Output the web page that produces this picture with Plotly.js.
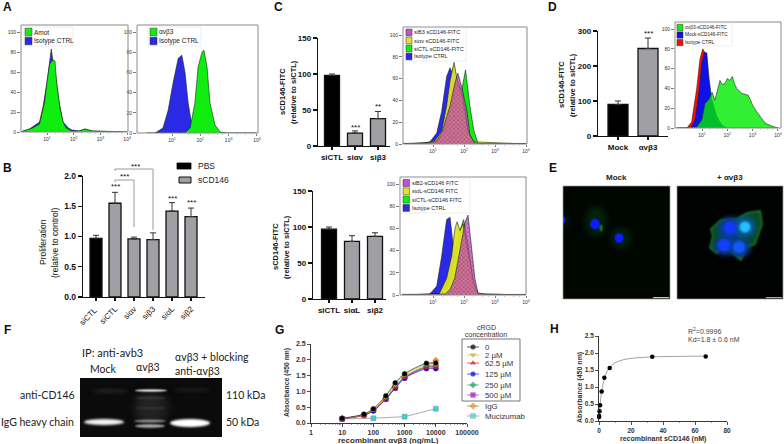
<!DOCTYPE html>
<html><head><meta charset="utf-8">
<script src="https://cdn.plot.ly/plotly-3.0.1.min.js"></script>
<style>html,body{margin:0;padding:0;background:#fff}#c{width:784px;height:444px}</style></head>
<body><div id="c"></div>
<script>
// ---------- data ----------
const profCats = ['siCTL ','siCTL','siαv','siβ3','siαL','siβ2'];
const profVals = [0.97,1.55,0.96,0.95,1.42,1.33];
const profErr  = [0.05,0.18,0.03,0.11,0.14,0.14];
const c1Cats = ['siCTL','siαv','siβ3'];
const c1Vals = [98,18,38];
const c1Err  = [2,3,10];
const c2Cats = ['siCTL','siαL','siβ2'];
const c2Vals = [97,80,87];
const c2Err  = [3,8,5];
const dCats = ['Mock','αvβ3'];
const dVals = [90,250];
const dErr  = [10,30];

const a1BlueX=[0,.34,.72,.85,1,1.08,1.16,1.22,1.29,1.45,1.6,1.8,1.93,2.2,2.42,2.7,4];
const a1BlueY=[0,3,10,25,50,70,83,72,62,30,10,4,2,1,3,1,0];
const a1GreenX=[0,.46,.72,.91,1.0,1.1,1.22,1.3,1.36,1.48,1.6,1.72,1.93,2.23,2.42,2.69,4];
const a1GreenY=[0,4,8,30,50,68,72,71,50,25,10,4,1,1,3,1,0];
const a2BlueX=[.1,.4,.68,.86,1.04,1.22,1.35,1.46,1.57,1.7,1.88,4];
const a2BlueY=[0,0,5,22,50,74,77,60,30,8,0,0];
const a2GreenX=[.1,1.46,1.64,1.81,1.92,2.06,2.13,2.24,2.34,2.52,2.7,2.95,4];
const a2GreenY=[0,0,5,30,65,80,82,65,30,8,1,0,0];

const c1BlueX=[0,.7,.9,1.12,1.28,1.44,1.55,1.6,1.68,1.8,1.97,2.2,4];
const c1BlueY=[0,1,2,10,30,62,70,66,72,45,10,0,0];
const c1YellowX=[0,.8,1.06,1.28,1.44,1.55,1.68,1.77,1.94,2.13,2.3,4];
const c1YellowY=[0,1,3,12,35,58,75,60,45,12,2,0];
const c1GreenX=[0,1.0,1.23,1.44,1.65,1.8,1.93,2.05,2.19,2.32,2.45,2.6,4];
const c1GreenY=[0,1,5,15,38,55,50,68,35,12,1,0,0];
const c1PurpleX=[0,.9,1.12,1.3,1.55,1.7,1.8,1.93,2.1,2.19,2.35,2.5,4];
const c1PurpleY=[.5,1,3,12,35,55,65,52,30,8,1,.5,.5];

const c2BlueX=[0,.8,.9,1.12,1.28,1.44,1.55,1.65,1.75,1.9,2.2,4];
const c2BlueY=[0,0,1,8,35,68,70,45,20,5,0,0];
const c2YellowX=[0,1.2,1.44,1.6,1.71,1.78,1.87,1.97,2.13,2.3,2.45,4];
const c2YellowY=[0,1,15,35,60,66,58,64,40,12,1,0];
const c2GreenX=[0,1.25,1.5,1.65,1.75,1.87,1.99,2.13,2.3,2.45,4];
const c2GreenY=[0,1,10,25,45,58,68,45,12,1,0];
const c2PurpleX=[0,1.4,1.55,1.7,1.8,1.93,2.03,2.13,2.23,2.35,2.45,2.7,4];
const c2PurpleY=[.5,1,5,15,30,50,65,72,45,15,2,.5,.5];

const dRedX=[0,.4,.59,.79,.92,1.03,1.12,1.24,1.38,1.6,4];
const dRedY=[0,0,6,40,70,80,76,30,15,0,0];
const dBlueX=[0,.55,.72,.85,.99,1.08,1.19,1.28,1.38,1.58,1.78,2,4];
const dBlueY=[0,0,8,30,65,76,76,50,30,12,3,0,0];
const dGreenX=[0,.79,.99,1.12,1.25,1.33,1.4,1.51,1.6,1.71,1.8,1.91,2.0,2.1,2.2,2.28,2.37,2.47,2.57,2.7,2.83,2.92,3.02,3.15,3.29,3.4,3.49,3.75,4];
const dGreenY=[0,1,8,25,28,32,36,28,38,48,44,45,50,48,52,45,40,37,35,34,33,28,22,17,12,9,5,2,0];

const gX=[10,50,100,250,500,1000,5000,10000];
const g0=[.15,.28,.45,.86,1.27,1.56,1.89,1.90];
const g2=[.14,.27,.43,.82,1.2,1.52,1.85,1.85];
const g62=[.13,.24,.39,.76,1.12,1.44,1.76,1.76];
const g125=[.13,.25,.38,.75,1.1,1.42,1.72,1.72];
const g250=[.14,.26,.41,.78,1.15,1.47,1.8,1.8];
const g500=[.13,.25,.4,.76,1.11,1.43,1.78,1.77];
const gIgG=[.14,.26,.4,.76,1.12,1.43,1.78,1.98];
const gMuciX=[10,100,1000,10000];
const gMuci=[.13,.15,.2,.45];

const hX=[0.05,0.1,0.33,0.67,1.67,3.33,6.67,33.3,66.7];
const hY=[.12,.15,.29,.46,.87,1.27,1.56,1.89,1.9];
const hFitX=[0,.33,.67,1.67,3.33,5,6.67,10,13,17,22,33,50,66.7];
const hFitY=[.08,.25,.46,.87,1.24,1.45,1.57,1.71,1.77,1.82,1.85,1.885,1.9,1.91];

// ---------- page helpers ----------
const W=784,H=444;
const px=x=>x/W, py=y=>1-y/H;
const traces=[],shapes=[],annotations=[],images=[];
const layout={width:W,height:H,margin:{l:0,r:0,t:0,b:0},paper_bgcolor:'#fff',plot_bgcolor:'rgba(0,0,0,0)',showlegend:false,
  shapes,annotations,images};
let axN=0;
const ARIAL='Liberation Sans, Arial, sans-serif', LATO='Lato, sans-serif';
function text(x,y,t,o={}){annotations.push(Object.assign({xref:'paper',yref:'paper',x:px(x),y:py(y),text:t,showarrow:false,
  xanchor:'left',yanchor:'middle',font:{family:ARIAL,size:7,color:'#222'},borderpad:0},o));}
function panel(x,y,t){text(x,y,'<b>'+t+'</b>',{font:{family:ARIAL,size:12,color:'#111'},xanchor:'center'});}
function rect(x0,y0,x1,y1,fill,line,w,layer){shapes.push({type:'rect',xref:'paper',yref:'paper',x0:px(x0),x1:px(x1),y0:py(y0),y1:py(y1),
  fillcolor:fill,line:{color:line||'rgba(0,0,0,0)',width:w==null?1:w},layer:layer||'above'});}
function addAxes(xo,yo){axN++;const s=axN===1?'':axN;
  layout['xaxis'+s]=Object.assign({anchor:'y'+s,fixedrange:true,showgrid:false,zeroline:false},xo);
  layout['yaxis'+s]=Object.assign({anchor:'x'+s,fixedrange:true,showgrid:false,zeroline:false},yo);
  return {x:'x'+s,y:'y'+s};}

function hist(L,T,R,B,y100,y0,xAt1,dec,series,legend,legBox,fs){
  const yMin=(y0-B)/((y0-y100)/100), yMax=(y0-T)/((y0-y100)/100);
  const ax=addAxes({domain:[px(L),px(R)],range:[1+(L-xAt1)/dec,1+(R-xAt1)/dec],tickmode:'array',tickvals:[1,2,3,4],
      ticktext:['10<sup>1</sup>','10<sup>2</sup>','10<sup>3</sup>','10<sup>4</sup>'],ticks:'outside',ticklen:2,tickwidth:.7,tickcolor:'#444',
      tickfont:{family:ARIAL,size:5,color:'#333'},showline:false,
      minor:{ticks:'outside',ticklen:1,tickwidth:.4,tickcolor:'#777',tickvals:[1.3,1.6,1.8,2.3,2.6,2.8,3.3,3.6,3.8]}},
    {domain:[py(B),py(T)],range:[yMin,yMax],tickmode:'array',tickvals:[0,20,40,60,80,100],ticks:'outside',ticklen:3,tickwidth:.7,tickcolor:'#444',
      tickfont:{family:ARIAL,size:5,color:'#333'},showline:false});
  series.forEach(s=>traces.push({type:'scatter',mode:'lines',x:s.x,y:s.y,xaxis:ax.x,yaxis:ax.y,fill:'tozeroy',
     fillcolor:s.fill,fillpattern:s.pattern,line:{color:s.line||'rgba(20,40,20,.85)',width:.7},hoverinfo:'skip'}));
  rect(L,T,R,B,'rgba(0,0,0,0)','#8a8a8a',1);
  rect(legBox[0],legBox[1],legBox[2],legBox[3],'rgba(255,255,255,.85)','#ddd',.5);
  const h=legend.step;
  legend.items.forEach((it,i)=>{const yc=legBox[1]+legend.first+i*h;
    rect(legBox[0]+legend.pad,yc-h*.42,legBox[0]+legend.pad+legend.sw,yc+h*.42,it.color,'#333',.5);
    text(legBox[0]+legend.pad+legend.sw+1,yc,it.t,{font:{family:ARIAL,size:fs,color:'#222'}});});
}
const cBlue='#2a2ae6',cGreen='#10ee10',cYellow='rgba(225,225,40,.95)',cPurple='rgba(190,60,190,.78)',cRed='#f01010';
const hatch={shape:'x',fgcolor:'rgba(110,10,100,.55)',bgcolor:'rgba(200,70,190,.7)',size:3,solidity:.3,fillmode:'replace'};

function bars(yAxisX,xEnd,firstC,stepC,barW,y0,yTop,yMaxV,yTicks,cats,vals,errs,colors,fsTick,fsCat,angle,lw){
  const ax=addAxes({domain:[px(yAxisX),px(xEnd)],range:[(yAxisX-firstC)/stepC,(xEnd-firstC)/stepC],
     tickmode:'array',tickvals:cats.map((_,i)=>i),ticktext:cats.map(c=>angle?c:'<b>'+c.trim()+'</b>'),tickangle:angle||0,
     tickfont:{family:ARIAL,size:fsCat,color:'#111'},ticks:'outside',ticklen:3,tickwidth:lw,tickcolor:'#111',showline:true,linecolor:'#111',linewidth:lw},
    {domain:[py(y0),py(yTop)],range:[0,yMaxV],tickmode:'array',tickvals:yTicks,ticks:'outside',ticklen:4,tickwidth:lw,tickcolor:'#111',
     tickfont:{family:ARIAL,size:fsTick,color:'#111'},showline:true,linecolor:'#111',linewidth:lw,
     ticktext:yTicks.map(v=>'<b>'+(yMaxV===2?v.toFixed(1):v)+'</b>')});
  traces.push({type:'bar',x:cats.map((_,i)=>i),y:vals,width:barW/stepC,xaxis:ax.x,yaxis:ax.y,
     marker:{color:colors,line:{color:'#111',width:1.3}},
     error_y:{type:'data',symmetric:false,array:errs,arrayminus:errs.map(()=>0),color:'#333',thickness:1,width:3},hoverinfo:'skip'});
  return ax;
}
const GR='#a0a0a4',BK='#000';

panel(8,7,'A');
hist(21,25,128,132,32,132,47,26.7,
  [{x:a1BlueX,y:a1BlueY,fill:cBlue},{x:a1GreenX,y:a1GreenY,fill:cGreen}],
  {items:[{t:'Amot',color:cGreen},{t:'Isotype CTRL',color:cBlue}],step:9,first:5,pad:2,sw:7},[23,27,73,46],6.5);
hist(137,25,258,133,32,133,172,28.3,
  [{x:a2BlueX,y:a2BlueY,fill:cBlue},{x:a2GreenX,y:a2GreenY,fill:cGreen}],
  {items:[{t:'αvβ3',color:cGreen},{t:'Isotype CTRL',color:cBlue}],step:9,first:5,pad:2,sw:7},[148,27,201,46],6.5);

panel(8,168,'B');
const bB=bars(83,205,96,19,12,297,176,2,[0,.5,1,1.5,2],profCats,profVals,profErr,[BK,GR,GR,GR,GR,GR],8.5,8,-45,1.2);
text(43,242,'Proliferation',{font:{family:ARIAL,size:8.5,color:'#111'},textangle:-90,xanchor:'center'});
text(55,242,'(relative to control)',{font:{family:ARIAL,size:8.5,color:'#111'},textangle:-90,xanchor:'center'});
rect(177,163,191,169,BK,'#000',.8);
rect(179,177,191,183,GR,'#111',1);
text(197,166,'PBS',{font:{family:ARIAL,size:8.5,color:'#222'}});
text(197,180,'sCD146',{font:{family:ARIAL,size:8.5,color:'#222'}});
function bracket(ax,i0,i1,yTop,yEnd){
  const base={xref:ax.x,yref:'paper',type:'line',line:{color:'#9a9a9a',width:1},layer:'above'};
  shapes.push(Object.assign({},base,{x0:i0,x1:i1,y0:py(yTop),y1:py(yTop)}));
  shapes.push(Object.assign({},base,{x0:i1,x1:i1,y0:py(yTop),y1:py(yEnd)}));
  shapes.push(Object.assign({},base,{x0:i0,x1:i0,y0:py(yTop),y1:py(yTop+2)}));
}
bracket(bB,1,2,180,227);
bracket(bB,1,3,169,230);
function stars(ax,x,y,t,size){annotations.push({xref:ax.x,yref:ax.y,x,y,text:t,showarrow:false,xanchor:'center',yanchor:'middle',font:{family:ARIAL,size:size||8,color:'#111'}});}
stars(bB,1,1.82,'***');stars(bB,4,1.63,'***');stars(bB,5,1.56,'***');
text(124.5,176.5,'***',{font:{family:ARIAL,size:8,color:'#111'},xanchor:'center'});
text(135,166.5,'***',{font:{family:ARIAL,size:8,color:'#111'},xanchor:'center'});

panel(278,7,'C');
const bC=bars(318,390,332,23,15,146,38,150,[0,50,100,150],c1Cats,c1Vals,c1Err,[BK,GR,GR],8,8,0,1.2);
text(282,92,'<b>sCD146-FITC</b>',{font:{family:ARIAL,size:7.5,color:'#111'},textangle:-90,xanchor:'center'});
text(293,92,'<b>(relative to siCTL)</b>',{font:{family:ARIAL,size:7.5,color:'#111'},textangle:-90,xanchor:'center'});
stars(bC,1,26,'***');stars(bC,2,55,'**');
hist(403,27,527,144,35,144,433,31,
  [{x:c1BlueX,y:c1BlueY,fill:cBlue},{x:c1GreenX,y:c1GreenY,fill:cGreen},{x:c1YellowX,y:c1YellowY,fill:cYellow},{x:c1PurpleX,y:c1PurpleY,fill:cPurple,pattern:hatch}],
  {items:[{t:'siB3 sCD146-FITC',color:'#c050c8'},{t:'siαv sCD146-FITC',color:'#e0e030'},{t:'siCTL sCD146-FITC',color:cGreen},{t:'Isotype CTRL',color:cBlue}],step:8,first:4.5,pad:2,sw:6},[404,28,466,61],5.5);
const bC2=bars(313,386,329,23,15,299,191,150,[0,50,100,150],c2Cats,c2Vals,c2Err,[BK,GR,GR],8,8,0,1.2);
text(275,247,'<b>sCD146-FITC</b>',{font:{family:ARIAL,size:7.5,color:'#111'},textangle:-90,xanchor:'center'});
text(286,247,'<b>(relative to siCTL)</b>',{font:{family:ARIAL,size:7.5,color:'#111'},textangle:-90,xanchor:'center'});
hist(400,177,526,295,184,295,433,31,
  [{x:c2BlueX,y:c2BlueY,fill:cBlue},{x:c2GreenX,y:c2GreenY,fill:cGreen},{x:c2YellowX,y:c2YellowY,fill:cYellow},{x:c2PurpleX,y:c2PurpleY,fill:cPurple,pattern:hatch}],
  {items:[{t:'siB2-sCD146 FITC',color:'#c050c8'},{t:'siαL-sCD146 FITC',color:'#e0e030'},{t:'siCTL-sCD146 FITC',color:cGreen},{t:'Isotype CTRL',color:cBlue}],step:8.3,first:5,pad:2,sw:6.5},[401,178,470,213],5.5);

panel(552,7,'D');
const bD=bars(598,668,618,30,20,136,31,300,[0,100,200,300],dCats,dVals,dErr,[BK,GR],8,8,0,1.2);
text(562,85,'<b>sCD146-FITC</b>',{font:{family:ARIAL,size:7.5,color:'#111'},textangle:-90,xanchor:'center'});
text(573,85,'<b>(relative to siCTL)</b>',{font:{family:ARIAL,size:7.5,color:'#111'},textangle:-90,xanchor:'center'});
stars(bD,1,294,'***');
hist(675,22,781,128,29,128,702,25.3,
  [{x:dRedX,y:dRedY,fill:cRed,line:'rgba(60,0,0,.7)'},{x:dBlueX,y:dBlueY,fill:'#1010e8'},{x:dGreenX,y:dGreenY,fill:'rgba(0,235,0,.8)',line:'rgba(30,50,30,.9)'}],
  {items:[{t:'αvβ3-sCD146-FITC',color:cGreen},{t:'Mock-sCD146-FITC',color:'#1010e8'},{t:'Isotype CTRL',color:cRed}],step:7.5,first:4.5,pad:1,sw:6},[676,23,732,46],4.8);

const PS=3;
function picture(x,y,w,h,draw){
  const cv=document.createElement('canvas');cv.width=w*PS;cv.height=h*PS;
  const c=cv.getContext('2d');c.scale(PS,PS);draw(c,w,h);
  images.push({source:cv.toDataURL('image/png'),xref:'paper',yref:'paper',x:px(x),y:py(y),sizex:w/W,sizey:h/H,sizing:'stretch',xanchor:'left',yanchor:'top',layer:'above'});
}
function blob(c,x,y,rx,ry,col,blur){c.save();c.filter='blur('+(blur*PS)+'px)';c.fillStyle=col;c.beginPath();c.ellipse(x,y,rx,ry,0,0,7);c.fill();c.restore();}
text(616,177,'<b>Mock</b>',{font:{family:ARIAL,size:8,color:'#222'},xanchor:'center'});
text(730,177,'<b>+ αvβ3</b>',{font:{family:ARIAL,size:8,color:'#222'},xanchor:'center'});
panel(553,168,'E');
picture(563,186,107,113,(c,w,h)=>{c.fillStyle='#000600';c.fillRect(0,0,w,h);
  blob(c,33,35,11,15,'#04220c',3);blob(c,58,52,11,11,'#041e0c',3);blob(c,3,36,5,9,'#021006',3);
  blob(c,38,42,1.8,3.5,'#1a6a2c',.6);
  blob(c,32,38,4.8,5.2,'#0c1cff',.5);blob(c,56,52,4.3,4.8,'#0c1cff',.5);blob(c,0.5,34,2,3.2,'#0c1cff',.4);
  c.fillStyle='#ddd';c.fillRect(90,111,16,1);});
picture(677,186,106,113,(c,w,h)=>{c.fillStyle='#000302';c.fillRect(0,0,w,h);
  c.save();c.filter='blur('+(1*PS)+'px)';c.beginPath();
  [[34,43],[44,34],[60,33],[70,27],[83,25],[85,38],[78,58],[68,62],[64,74],[55,66],[46,60],[40,67],[33,62],[36,50]].forEach((p,i)=>i?c.lineTo(p[0],p[1]):c.moveTo(p[0],p[1]));
  c.closePath();c.fillStyle='#084a2c';c.fill();c.strokeStyle='#2ca82c';c.lineWidth=1.1;c.stroke();c.restore();
  blob(c,54,43,13,12,'#0a3c9c',2.5);blob(c,48,60,11,9,'#0a3c9c',2.5);blob(c,63,62,10,9,'#0a3c9c',2.5);blob(c,68,41,10,10,'#0a5aa0',2.5);
  blob(c,53,42,6,6,'#1438ff',1);blob(c,68,41,5.5,5.5,'#25c0ff',1);blob(c,47,59,6,6,'#1440ff',1);blob(c,62,61,6,6,'#1458ff',1);
  c.fillStyle='#bbb';c.fillRect(89,111,16,1);});
rect(563,186,670,299,'rgba(0,0,0,0)','#999',.7);
rect(677,186,783,299,'rgba(0,0,0,0)','#999',.7);

panel(7,330,'F');
picture(80,378,142,59,(c,w,h)=>{c.fillStyle='#0b0b0b';c.fillRect(0,0,w,h);
  blob(c,71,30,17,16,'#222',4);
  blob(c,30,13,18,1.5,'#2a2a2a',2);blob(c,112,12,18,1.5,'#222',2);
  blob(c,71,12.5,16,1.2,'#e6e6e6',.7);blob(c,71,20,15,1.2,'#3a3a3a',1);blob(c,71,30,15,1.2,'#333',1);
  blob(c,24,44,20,3,'#f6f6f6',1.3);blob(c,70,43,16,1.4,'#8a8a8a',.9);blob(c,70,48,15,1.8,'#a5a5a5',.9);
  blob(c,110,45,20,4,'#ffffff',1);});
const fF={family:LATO,size:10.5,color:'#222'};
text(81,352,'IP: anti-avb3',{font:Object.assign({},fF,{size:11})});
text(103,369,'Mock',{font:fF,xanchor:'center'});
text(148,367,'αvβ3',{font:fF,xanchor:'center'});
text(174,357,'αvβ3 + blocking',{font:fF});
text(174,371,'anti-αvβ3',{font:fF});
text(76,395,'anti-CD146',{font:fF,xanchor:'right'});
text(75,422,'IgG heavy chain',{font:fF,xanchor:'right'});
text(225,395,'110 kDa',{font:fF});
text(225,422,'50 kDa',{font:fF});

panel(279,330,'G');
const gAx=addAxes({type:'log',domain:[px(311),px(467)],range:[0,5],tickmode:'array',tickvals:[1,10,100,1000,10000,100000],
    ticktext:['1','10','100','1000','10000','100000'].map(t=>'<b>'+t+'</b>'),ticks:'outside',ticklen:3,tickwidth:.8,tickcolor:'#222',
    tickfont:{family:ARIAL,size:7,color:'#333'},showline:true,linecolor:'#222',linewidth:.9,
    minor:{ticks:'outside',ticklen:1.5,tickwidth:.5,tickcolor:'#444',dtick:'D1'}},
  {domain:[py(423),py(344)],range:[0,2.5],tickmode:'array',tickvals:[0,.5,1,1.5,2,2.5],ticktext:['0.0','0.5','1.0','1.5','2.0','2.5'].map(t=>'<b>'+t+'</b>'),ticks:'outside',ticklen:3,tickwidth:.8,tickcolor:'#222',
    tickfont:{family:ARIAL,size:7,color:'#333'},showline:true,linecolor:'#222',linewidth:.9});
const gSeries=[
 {n:'Mucizumab',x:gMuciX,y:gMuci,c:'#999',m:'#40d0d8',s:'square',shape:'linear'},
 {n:'IgG',x:gX,y:gIgG,c:'#8a8a8a',m:'#ff8c00',s:'diamond',shape:'spline'},
 {n:'500 µM',x:gX,y:g500,c:'#b040d0',m:'#b000e0',s:'square',shape:'spline'},
 {n:'250 µM',x:gX,y:g250,c:'#30b080',m:'#20a070',s:'diamond',shape:'spline'},
 {n:'125 µM',x:gX,y:g125,c:'#2040f0',m:'#0000ff',s:'circle',shape:'spline'},
 {n:'62.5 µM',x:gX,y:g62,c:'#f03030',m:'#ff0000',s:'triangle-up',shape:'spline'},
 {n:'2 µM',x:gX,y:g2,c:'#c8c840',m:'#c0c000',s:'triangle-down',shape:'spline'},
 {n:'0',x:gX,y:g0,c:'#333',m:'#000',s:'circle',shape:'spline'}];
gSeries.forEach(s=>traces.push({type:'scatter',mode:'lines+markers',name:s.n,x:s.x,y:s.y,xaxis:gAx.x,yaxis:gAx.y,
  line:{color:s.c,width:.8,shape:s.shape,smoothing:.8},marker:{color:s.m,symbol:s.s,size:5,line:{color:'#666',width:.3}},hoverinfo:'skip'}));
text(388,440,'<b>recombinant αvβ3 (ng/mL)</b>',{font:{family:ARIAL,size:8,color:'#333'},xanchor:'center'});
text(287,383,'<b>Absorbance (450 nm)</b>',{font:{family:ARIAL,size:6.8,color:'#333'},textangle:-90,xanchor:'center'});
text(486,327,'cRGD',{font:{family:ARIAL,size:7,color:'#333'},xanchor:'center'});
text(486,334,'concentration',{font:{family:ARIAL,size:7,color:'#333'},xanchor:'center'});
rect(462,339,520,401,'rgba(0,0,0,0)','#666',.9);
const keyAx=addAxes({domain:[0,1],range:[0,W],visible:false},{domain:[0,1],range:[H,0],visible:false});
const keyRows=[347,355,363,374,385,395,406,416];
const keyNames=['0','2 µM','62.5 µM','125 µM','250 µM','500 µM','IgG','Mucizumab'];
[...gSeries].reverse().forEach((s,i)=>{
  traces.push({type:'scatter',mode:'lines+markers',x:[467,473,479],y:[keyRows[i],keyRows[i],keyRows[i]],xaxis:keyAx.x,yaxis:keyAx.y,
    line:{color:s.c,width:.8},marker:{color:s.m,symbol:s.s,size:[0,5,0],line:{color:'#666',width:.3}},hoverinfo:'skip'});
  text(484,keyRows[i],keyNames[i],{font:{family:ARIAL,size:7.8,color:'#333'}});
});

panel(554,329,'H');
const hAx=addAxes({domain:[px(599),px(727)],range:[0,80],tickmode:'array',tickvals:[0,20,40,60,80],ticktext:['0','20','40','60','80'].map(t=>'<b>'+t+'</b>'),
    ticks:'outside',ticklen:3,tickwidth:.8,tickcolor:'#222',tickfont:{family:ARIAL,size:6.5,color:'#333'},showline:true,linecolor:'#222',linewidth:.9,
    minor:{ticks:'outside',ticklen:1.5,tickwidth:.5,tickcolor:'#444',tickvals:[10,30,50,70]}},
  {domain:[py(421),py(336)],range:[0,2.5],tickmode:'array',tickvals:[0,.5,1,1.5,2,2.5],ticktext:['0.0','0.5','1.0','1.5','2.0','2.5'].map(t=>'<b>'+t+'</b>'),ticks:'outside',ticklen:3,tickwidth:.8,tickcolor:'#222',
    tickfont:{family:ARIAL,size:6.5,color:'#333'},showline:true,linecolor:'#222',linewidth:.9});
traces.push({type:'scatter',mode:'lines',x:hFitX,y:hFitY,xaxis:hAx.x,yaxis:hAx.y,line:{color:'#888',width:.8,shape:'spline'},hoverinfo:'skip'});
traces.push({type:'scatter',mode:'markers',x:hX,y:hY,xaxis:hAx.x,yaxis:hAx.y,marker:{color:'#000',size:4.5},cliponaxis:false,hoverinfo:'skip'});
text(663,439,'<b>recombinant sCD146 (nM)</b>',{font:{family:ARIAL,size:7,color:'#333'},xanchor:'center'});
text(580,388,'<b>Absorbance (450 nm)</b>',{font:{family:ARIAL,size:7,color:'#333'},textangle:-90,xanchor:'center'});
text(687,331,'R<sup>2</sup>=0.9996',{font:{family:ARIAL,size:7,color:'#444'}});
text(687,339,'Kd=1.8 ± 0.6 nM',{font:{family:ARIAL,size:7,color:'#444'}});

Plotly.newPlot('c',traces,layout,{displayModeBar:false,staticPlot:true});
</script></body></html>
